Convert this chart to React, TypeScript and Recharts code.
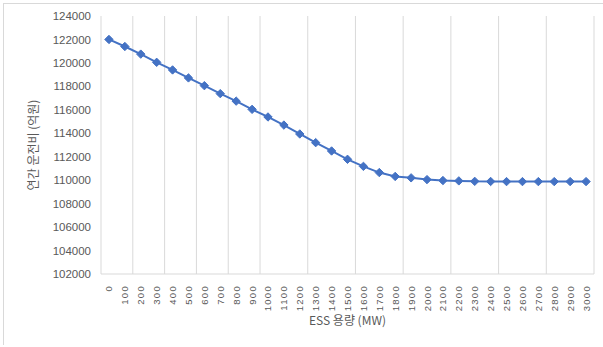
import React from 'react';
import { LineChart, Line, XAxis, YAxis, CartesianGrid } from 'recharts';

// ESS capacity (MW) categories
const capacities = [
  0, 100, 200, 300, 400, 500, 600, 700, 800, 900, 1000, 1100, 1200, 1300, 1400, 1500,
  1600, 1700, 1800, 1900, 2000, 2100, 2200, 2300, 2400, 2500, 2600, 2700, 2800, 2900, 3000,
];

// annual operating cost (억원)
const annualCost = [
  122000, 121400, 120750, 120050, 119400, 118720, 118060, 117380, 116740, 116040, 115390,
  114700, 113940, 113200, 112490, 111780, 111180, 110650, 110320, 110200, 110050, 109970,
  109940, 109900, 109890, 109880, 109880, 109880, 109880, 109880, 109880,
];

const yTicks = [102000, 104000, 106000, 108000, 110000, 112000, 114000, 116000, 118000, 120000, 122000, 124000];

const data = capacities.map((mw, i) => ({ idx: i, mw, cost: annualCost[i] }));
// category boundaries for the vertical grid lines
const boundaries = [...capacities.map((_, i) => i - 0.5), capacities.length - 0.5];

const LINE = '#4472C4';
const TEXT = '#595959';

const Diamond = (props: any) => {
  const { cx, cy } = props;
  if (cx == null || cy == null) return null;
  const r = 4.2;
  return (
    <path
      d={`M${cx},${cy - r} L${cx + r},${cy} L${cx},${cy + r} L${cx - r},${cy} Z`}
      fill={LINE}
      stroke={LINE}
      strokeWidth={1}
    />
  );
};

const XTick = (props: any) => {
  const { x, y, payload } = props;
  return (
    <text
      transform={`translate(${x + 3.5},${y + 3}) rotate(-90)`}
      textAnchor="end"
      fill={TEXT}
      fontSize={9.5}
      letterSpacing={1.3}
      fontFamily="'Liberation Sans', Arial, sans-serif"
    >
      {capacities[payload.value]}
    </text>
  );
};

export default function App() {
  return (
    <div style={{ position: 'absolute', left: 0, top: 0, width: 603, height: 347, background: '#fff' }}>
      <div
        style={{
          position: 'absolute',
          left: 3,
          top: 3,
          width: 600,
          height: 341,
          borderLeft: '1px solid #d9d9d9',
          borderTop: '1px solid #d9d9d9',
        }}
      />
      <LineChart
        width={603}
        height={347}
        data={data}
        margin={{ top: 16, right: 9, left: 0, bottom: 0 }}
        style={{ position: 'absolute', left: 0, top: 0 }}
      >
        <CartesianGrid xAxisId="grid" horizontal={false} stroke="#d9d9d9" strokeWidth={1} />
        <XAxis
          xAxisId="grid"
          type="number"
          dataKey="idx"
          domain={[-0.5, capacities.length - 0.5]}
          ticks={boundaries}
          hide
        />
        <XAxis
          dataKey="idx"
          type="number"
          domain={[-0.5, capacities.length - 0.5]}
          ticks={data.map((d) => d.idx)}
          interval={0}
          height={73}
          axisLine={{ stroke: '#d9d9d9' }}
          tickLine={false}
          tick={<XTick />}
          label={{
            value: 'ESS 용량 (MW)',
            position: 'insideBottom',
            offset: 22,
            fill: TEXT,
            fontSize: 12,
            fontFamily: "'Noto Sans CJK KR', sans-serif",
          }}
        />
        <YAxis
          width={101}
          domain={[102000, 124000]}
          ticks={yTicks}
          interval={0}
          axisLine={false}
          tickLine={false}
          tick={{ fill: TEXT, fontSize: 11.5, fontFamily: "'Liberation Sans', Arial, sans-serif" }}
          tickMargin={4}
          label={{
            value: '연간 운전비 (억원)',
            angle: -90,
            position: 'center',
            dx: -17,
            fill: TEXT,
            fontSize: 12,
            fontFamily: "'Noto Sans CJK KR', sans-serif",
          }}
        />
        <Line
          dataKey="cost"
          stroke={LINE}
          strokeWidth={2}
          dot={<Diamond />}
          activeDot={false}
          isAnimationActive={false}
        />
      </LineChart>
    </div>
  );
}
